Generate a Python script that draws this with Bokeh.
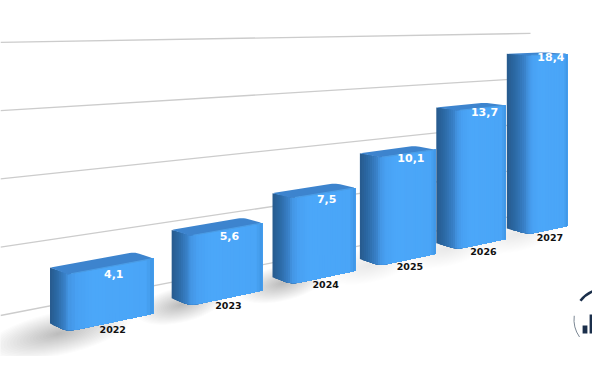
from bokeh.plotting import figure, ColumnDataSource
from bokeh.embed import file_html
from bokeh.resources import INLINE
from bokeh.core.properties import value
import math

# ---------- data ----------
years = ["2022", "2023", "2024", "2025", "2026", "2027"]
values = [4.1, 5.6, 7.5, 10.1, 13.7, 18.4]
value_labels = ["4,1", "5,6", "7,5", "10,1", "13,7", "18,4"]
grid_levels = [0, 1, 2, 3, 4]

# ---------- perspective model of the floor ----------
front_span = [0.68, 0.68, 0.70, 0.71, 0.71, 0.65]

def x_of(u):
    return (153 + 131.5 * u) / (1 + 0.0859 * u)

def floor_y(x):
    return 345.4 - 0.2115 * x

def height_of(v):
    return 21.5 + 8.18 * v

def depth_dy(y):
    return 1.5 + 0.0235 * (y - 50)

def hex2rgb(c):
    return [int(c[i:i + 2], 16) for i in (1, 3, 5)]

def mix(stops, t):
    for (t0, c0), (t1, c1) in zip(stops, stops[1:]):
        if t <= t1:
            f = (t - t0) / (t1 - t0)
            a, b = hex2rgb(c0), hex2rgb(c1)
            return "#%02x%02x%02x" % tuple(round(a[k] + (b[k] - a[k]) * f) for k in range(3))
    return stops[-1][1]

STOPS = [(-1.0, "#275a8d"), (-0.6, "#2c6aa6"), (-0.15, "#3a83cb"), (0.1, "#48a0f2"),
         (0.28, "#4ba7f9"), (0.9, "#4aa5f7"), (1.0, "#3f95e4")]

def rounded(poly, radii):
    out = []
    n = len(poly)
    for i, c in enumerate(poly):
        r = radii[i]
        if r == 0:
            out.append(c)
            continue
        a, b = poly[i - 1], poly[(i + 1) % n]
        la = math.dist(a, c)
        lb = math.dist(b, c)
        fa = min(r / la, .5)
        fb = min(r / lb, .5)
        p0 = (c[0] + (a[0] - c[0]) * fa, c[1] + (a[1] - c[1]) * fa)
        p2 = (c[0] + (b[0] - c[0]) * fb, c[1] + (b[1] - c[1]) * fb)
        for k in range(6):
            t = k / 5
            out.append(((1 - t) ** 2 * p0[0] + 2 * t * (1 - t) * c[0] + t * t * p2[0],
                        (1 - t) ** 2 * p0[1] + 2 * t * (1 - t) * c[1] + t * t * p2[1]))
    return out

p = figure(width=592, height=356, x_range=(0, 592), y_range=(356, 0),
           toolbar_location=None, output_backend="svg", min_border=0,
           outline_line_color=None, background_fill_color="white", border_fill_color="white")
p.axis.visible = False
p.grid.visible = False

# ---------- grid lines ----------
for k in grid_levels:
    y0 = 315 - 68.3 * k
    slope = -0.194 + 0.0443 * k
    xs = [0, 530]
    p.line(xs, [y0 + slope * x for x in xs], line_color="#cccccc", line_width=1.3)

# ---------- soft floor shadows ----------
for i in range(6):
    L = x_of(i - front_span[i])
    dx = -(18 + 0.7 * i)
    cxs = L + dx * 0.5
    cys = floor_y(cxs) - 3 + (3 if i == 0 else 0)
    rx0 = 72 if i == 0 else 44
    ry0 = 22 if i == 0 else 18
    strength = 0.016 if i < 3 else 0.009
    layers = 22
    for layer in range(layers):
        f = 1 - layer / layers
        xs, ys = [], []
        for k in range(36):
            a = 2 * math.pi * k / 36
            ex = rx0 * f * math.cos(a)
            ey = ry0 * f * math.sin(a)
            xs.append(cxs + ex)
            ys.append(cys + ey - 0.2 * ex)
        p.patch(xs, ys, fill_color="#444444", fill_alpha=strength, line_color=None)

# ---------- bars ----------
for i, v in enumerate(values):
    R = x_of(i)
    L = x_of(i - front_span[i])
    h = height_of(v)
    dx = -(18 + 0.7 * i)
    top_L = floor_y(L) - h * 1.04
    top_R = floor_y(R) - h
    bot_L = floor_y(L)
    bot_R = floor_y(R)
    ddb = depth_dy(bot_L)
    ddt = depth_dy(top_L)
    ddr = depth_dy(top_R)

    ts = [-1 + j * 0.1 for j in range(10)] + [j * 0.04 for j in range(26)]
    pts_x, pts_top, pts_bot = [], [], []
    for t in ts:
        if t < 0:
            f = t + 1
            x = L + dx * (1 - f)
            yt = (top_L - ddt) + ddt * f
            yb = (bot_L - ddb) + ddb * f
        else:
            x = L + (R - L) * t
            yt = top_L + (top_R - top_L) * t
            yb = bot_L + (bot_R - bot_L) * t
        pts_x.append(x); pts_top.append(yt); pts_bot.append(yb)
    smooth = []
    n = len(pts_bot)
    for j in range(n):
        w = 3 if 3 <= j < n - 3 else min(j, n - 1 - j)
        smooth.append(sum(pts_bot[j - w:j + w + 1]) / (2 * w + 1))
    # painter's order: each strip reaches to the far edge, so no seams show
    sxs, sys, cols = [], [], []
    for j in range(n - 1):
        sxs.append(pts_x[j:] + pts_x[j:][::-1])
        sys.append(pts_top[j:] + smooth[j:][::-1])
        cols.append(mix(STOPS, (ts[j] + ts[j + 1]) / 2))
    src = ColumnDataSource(dict(xs=sxs, ys=sys, c=cols))
    p.patches("xs", "ys", source=src, fill_color="c", line_color=None)

    # top face
    top = [(L, top_L), (R, top_R), (R + dx - 1, top_R - ddr), (L + dx, top_L - ddt)]
    top = rounded(top, [0, 3, 5, 2])
    p.patch([q[0] for q in top], [q[1] for q in top], fill_color="#3d84ce", line_color=None)
    p.line([L + 3, R - 2], [top_L + (top_R - top_L) * 0.04, top_R - (top_R - top_L) * 0.02],
           line_color="#4b9de6", line_width=1.2)

# ---------- labels ----------
cx = [(x_of(i) + x_of(i - front_span[i])) / 2 for i in range(6)]
val_y = [floor_y(cx[i]) - height_of(values[i]) * 1.02 + 8 - 1.1 * i for i in range(6)]
yr_y = [floor_y(cx[i]) + 7 for i in range(6)]
val_x = [c + 3 for c in cx]
yr_x = [c + 2 for c in cx]
p.text(val_x, val_y, text=value_labels, text_color="white", text_font=value("DejaVu Sans"),
       text_font_style="bold", text_font_size="11px", text_align="center", text_baseline="middle")
p.text(yr_x, yr_y, text=years, text_color="#111111", text_font=value("DejaVu Sans"),
       text_font_style="bold", text_font_size="9.5px", text_align="center", text_baseline="middle")

# ---------- logo ----------
logo_bars_x = [584.5, 591.5, 598.5]
logo_bars_top = [325, 314, 307]
p.vbar(x=logo_bars_x, width=4.8, bottom=333, top=logo_bars_top, fill_color="#1b2f4b", line_color=None)
p.arc(x=[604], y=[319], radius=[30.5], start_angle=math.radians(98), end_angle=math.radians(142),
      line_color="#1b2f4b", line_width=2.6, direction="anticlock")
p.arc(x=[604], y=[319], radius=[30.5], start_angle=math.radians(173), end_angle=math.radians(215),
      line_color="#7b8794", line_width=1, direction="anticlock")

open("out.html", "w").write(file_html(p, INLINE))
